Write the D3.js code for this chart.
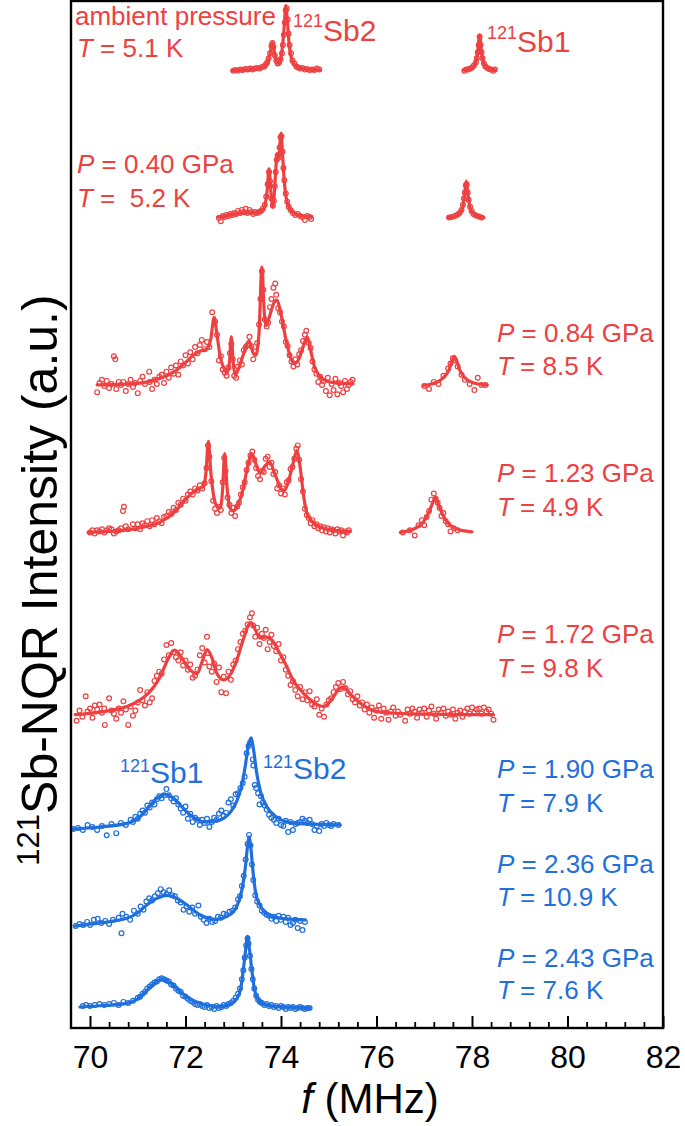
<!DOCTYPE html>
<html><head><meta charset="utf-8">
<script src="https://cdn.jsdelivr.net/npm/d3@7"></script>
<style>
body{margin:0;background:#fff}
svg text{font-family:"Liberation Sans",Arial,Helvetica,sans-serif;white-space:pre}
</style>
</head><body>
<svg id="chart" width="685" height="1126"></svg>
<script>
// ---------- DATA ----------
const xTickValues = [70, 72, 74, 76, 78, 80, 82];
const pressures = ["ambient pressure", "0.40", "0.84", "1.23", "1.72", "1.90", "2.36", "2.43"];
const temperatures = ["5.1", " 5.2", "8.5", "4.9", "9.8", "7.9", "10.9", "7.6"];
const offsets = [93.0, 78.6, 62.3, 47.9, 30.2, 19.03, 9.56, 1.65];
const phases = ["red", "red", "red", "red", "red", "blue", "blue", "blue"];

// fit curves [f (MHz), intensity (a.u.) above offset]
const fit0a = [[72.98,0.1],[73.2,0.15],[73.4,0.2],[73.55,0.3],[73.65,0.5],[73.72,0.9],[73.77,1.7],[73.82,2.83],[73.87,1.7],[73.91,0.95],[73.95,0.8],[73.99,1.2],[74.03,2.4],[74.07,4.6],[74.1,6.45],[74.13,5.2],[74.17,2.7],[74.22,1.3],[74.3,0.6],[74.4,0.35],[74.55,0.2],[74.82,0.15]];
const fit0b = [[77.82,0.15],[77.95,0.25],[78.03,0.45],[78.08,0.9],[78.12,1.9],[78.16,3.6],[78.2,1.9],[78.24,0.9],[78.3,0.45],[78.38,0.25],[78.49,0.15]];
const fit1a = [[72.68,0.2],[72.9,0.35],[73.1,0.5],[73.3,0.6],[73.5,0.65],[73.6,0.8],[73.66,1.3],[73.71,2.8],[73.75,4.9],[73.79,2.5],[73.83,1.2],[73.86,2.5],[73.89,4.8],[73.92,6.4],[73.95,6.0],[73.98,7.5],[74.0,8.4],[74.03,6.5],[74.07,3.6],[74.12,1.8],[74.2,0.9],[74.3,0.5],[74.45,0.3],[74.65,0.25]];
const fit1b = [[77.5,0.15],[77.65,0.3],[77.75,0.6],[77.81,1.3],[77.85,2.6],[77.88,3.7],[77.91,2.6],[77.95,1.3],[78.01,0.6],[78.1,0.3],[78.25,0.15]];
const fit2a = [[70.15,0.1],[70.6,0.15],[71.0,0.25],[71.25,0.45],[71.5,0.8],[71.8,1.5],[72.0,2.3],[72.16,3.0],[72.3,3.4],[72.45,3.6],[72.53,4.6],[72.6,6.7],[72.66,5.0],[72.73,2.8],[72.8,1.8],[72.87,1.3],[72.92,2.3],[72.96,4.8],[73.0,2.2],[73.04,1.1],[73.12,1.8],[73.22,3.2],[73.33,4.4],[73.41,3.3],[73.47,3.0],[73.54,5.2],[73.6,11.6],[73.65,7.2],[73.69,5.9],[73.76,6.8],[73.84,8.0],[73.91,8.4],[74.0,7.0],[74.1,4.6],[74.2,2.8],[74.28,2.2],[74.37,2.6],[74.46,3.8],[74.55,4.8],[74.62,3.5],[74.7,1.9],[74.8,1.0],[74.95,0.5],[75.15,0.3],[75.51,0.2]];
const fit2b = [[76.98,0.05],[77.15,0.2],[77.3,0.45],[77.42,0.9],[77.52,1.6],[77.58,2.4],[77.63,2.9],[77.68,2.4],[77.75,1.5],[77.85,0.8],[77.98,0.4],[78.12,0.2],[78.32,0.1]];
const fit3a = [[69.96,0.1],[70.4,0.2],[70.8,0.35],[71.1,0.6],[71.47,1.1],[71.75,2.0],[72.0,3.3],[72.15,4.0],[72.3,4.4],[72.38,4.6],[72.43,6.0],[72.48,9.0],[72.53,6.0],[72.6,3.4],[72.67,2.6],[72.73,2.5],[72.78,4.5],[72.82,7.8],[72.87,4.5],[72.93,2.5],[73.0,2.2],[73.1,2.8],[73.2,4.2],[73.3,6.5],[73.39,7.8],[73.48,6.7],[73.56,5.9],[73.65,6.5],[73.76,7.0],[73.88,5.7],[74.0,4.4],[74.07,4.2],[74.15,5.0],[74.25,6.8],[74.33,8.1],[74.4,6.5],[74.47,3.8],[74.54,2.0],[74.65,1.2],[74.75,0.8],[74.95,0.45],[75.2,0.25],[75.45,0.2]];
const fit3b = [[76.5,0.1],[76.7,0.3],[76.85,0.6],[76.98,1.1],[77.08,1.9],[77.16,2.8],[77.23,3.5],[77.3,2.8],[77.38,1.9],[77.48,1.1],[77.6,0.6],[77.78,0.3],[78.0,0.15]];
const fit4 = [[69.69,0.0],[70.2,0.25],[70.77,0.8],[71.0,1.3],[71.19,1.95],[71.35,2.8],[71.47,3.7],[71.62,5.3],[71.77,6.3],[71.9,5.7],[72.05,4.6],[72.24,4.0],[72.35,5.2],[72.45,6.35],[72.55,5.6],[72.65,4.1],[72.8,3.4],[72.95,4.0],[73.08,5.4],[73.2,7.2],[73.37,9.0],[73.47,8.2],[73.56,7.5],[73.68,7.6],[73.81,7.3],[73.95,6.2],[74.12,4.7],[74.25,3.4],[74.4,2.45],[74.6,1.5],[74.75,1.0],[74.89,0.8],[75.05,1.4],[75.18,2.3],[75.31,2.7],[75.45,2.0],[75.66,1.15],[75.85,0.55],[76.01,0.3],[76.5,0.12],[77.0,0.05],[78.45,0.0]];
const fit5 = [[69.62,0.0],[70.2,0.2],[70.77,0.55],[71.0,1.0],[71.19,1.9],[71.4,3.0],[71.57,3.4],[71.75,3.0],[71.96,2.0],[72.15,1.2],[72.38,0.7],[72.6,0.75],[72.8,1.04],[72.95,1.7],[73.08,2.8],[73.18,4.3],[73.25,6.1],[73.31,8.0],[73.37,8.9],[73.43,7.6],[73.49,5.5],[73.58,3.5],[73.7,2.2],[73.9,1.2],[74.12,0.7],[74.5,0.5],[75.24,0.4]];
const fit6 = [[69.69,0.0],[70.2,0.3],[70.77,0.75],[71.0,1.3],[71.19,2.05],[71.4,2.7],[71.61,3.0],[71.82,2.7],[72.03,2.05],[72.3,1.1],[72.66,0.65],[72.85,0.9],[73.0,1.4],[73.1,2.2],[73.18,3.5],[73.25,5.6],[73.3,7.8],[73.33,8.7],[73.37,7.6],[73.41,5.5],[73.46,3.5],[73.55,2.1],[73.7,1.25],[73.95,0.8],[74.51,0.6]];
const fit7 = [[69.79,0.0],[70.3,0.15],[70.77,0.36],[71.0,0.8],[71.19,1.6],[71.35,2.3],[71.52,2.7],[71.7,2.3],[71.89,1.5],[72.1,0.8],[72.31,0.36],[72.55,0.1],[72.73,0.03],[72.9,0.2],[73.08,0.85],[73.16,1.9],[73.21,3.6],[73.26,5.6],[73.3,6.9],[73.34,5.6],[73.39,3.6],[73.45,1.6],[73.56,0.5],[73.8,0.1],[74.2,0.0],[74.61,-0.1]];

// measured points [f (MHz), intensity (a.u.) above offset]
const pts0 = [[73.0,0.1],[73.05,0.15],[73.1,0.1],[73.15,0.2],[73.2,0.15],[73.25,0.25],[73.3,0.2],[73.35,0.3],[73.4,0.2],[73.45,0.3],[73.5,0.35],[73.55,0.3],[73.6,0.45],[73.65,0.5],[73.68,0.7],[73.71,0.9],[73.74,1.3],[73.77,1.8],[73.8,2.5],[73.82,2.8],[73.84,2.4],[73.87,1.6],[73.9,1.1],[73.93,0.8],[73.96,0.9],[73.99,1.2],[74.02,1.8],[74.04,2.6],[74.06,3.6],[74.08,4.8],[74.1,6.0],[74.12,6.2],[74.14,5.1],[74.16,3.7],[74.18,2.6],[74.21,1.8],[74.24,1.1],[74.28,0.8],[74.32,0.5],[74.36,0.4],[74.4,0.3],[74.45,0.35],[74.5,0.2],[74.55,0.25],[74.6,0.15],[74.65,0.2],[74.7,0.15],[74.75,0.3],[74.8,0.2],
 [77.84,0.1],[77.88,0.2],[77.92,0.2],[77.96,0.3],[78.0,0.4],[78.04,0.6],[78.08,0.9],[78.1,1.3],[78.12,1.9],[78.14,2.6],[78.16,3.4],[78.18,2.6],[78.2,1.9],[78.22,1.3],[78.25,0.8],[78.28,0.5],[78.32,0.35],[78.36,0.25],[78.4,0.2],[78.44,0.1],[78.48,0.2]];
const pts1 = [[72.7,0.1],[72.74,-0.2],[72.78,0.3],[72.82,0.2],[72.86,0.4],[72.9,0.3],[72.94,0.5],[72.98,0.4],[73.02,0.6],[73.06,0.5],[73.1,0.8],[73.14,0.6],[73.18,0.9],[73.22,0.7],[73.26,1.0],[73.3,0.6],[73.34,0.9],[73.38,0.7],[73.42,0.5],[73.46,0.7],[73.5,0.6],[73.54,0.7],[73.58,0.8],[73.62,1.0],[73.66,1.4],[73.69,2.2],[73.72,3.4],[73.75,4.6],[73.77,3.7],[73.8,2.0],[73.83,1.3],[73.85,1.8],[73.87,3.2],[73.89,4.6],[73.91,5.8],[73.93,6.2],[73.95,6.0],[73.97,7.0],[73.99,8.0],[74.01,8.1],[74.03,6.6],[74.05,5.0],[74.07,3.8],[74.1,2.5],[74.13,1.7],[74.16,1.2],[74.2,0.9],[74.25,0.6],[74.3,0.4],[74.35,0.5],[74.4,0.3],[74.45,0.2],[74.5,-0.1],[74.55,0.3],[74.6,0.2],[74.63,0.0],
 [77.52,0.15],[77.58,0.2],[77.64,0.3],[77.7,0.45],[77.74,0.6],[77.78,0.9],[77.81,1.4],[77.83,2.0],[77.85,2.6],[77.87,3.3],[77.89,3.4],[77.91,2.6],[77.93,1.9],[77.96,1.2],[77.99,0.8],[78.03,0.5],[78.08,0.35],[78.14,0.25],[78.2,0.15]];
const pts2 = [[70.15,-0.6],[70.2,0.3],[70.25,0.6],[70.3,0.0],[70.35,0.5],[70.4,-0.2],[70.45,0.2],[70.5,2.9],[70.53,2.6],[70.55,-0.3],[70.6,0.4],[70.65,0.1],[70.7,0.4],[70.75,-0.5],[70.8,0.2],[70.85,0.6],[70.9,-0.1],[70.95,0.3],[71.0,-0.7],[71.05,0.5],[71.1,0.9],[71.15,0.2],[71.24,1.4],[71.25,0.4],[71.3,-0.3],[71.35,0.6],[71.4,0.2],[71.45,0.9],[71.5,1.1],[71.55,0.3],[71.6,1.4],[71.65,0.8],[71.7,1.8],[71.75,1.2],[71.8,2.0],[71.85,1.1],[71.9,2.4],[71.95,2.0],[72.0,3.0],[72.05,2.2],[72.1,3.3],[72.15,2.6],[72.2,3.8],[72.25,3.2],[72.3,4.0],[72.34,4.5],[72.4,3.6],[72.45,4.3],[72.5,3.8],[72.56,7.2],[72.62,6.3],[72.66,5.0],[72.7,2.5],[72.74,2.9],[72.78,1.6],[72.82,1.3],[72.86,1.0],[72.9,1.8],[72.93,3.2],[72.96,4.1],[72.99,2.6],[73.02,1.0],[73.06,0.8],[73.1,1.9],[73.14,2.5],[73.18,2.1],[73.22,3.5],[73.26,3.8],[73.3,4.0],[73.34,4.8],[73.38,3.9],[73.42,2.6],[73.46,3.4],[73.5,4.2],[73.54,6.0],[73.57,8.5],[73.6,11.2],[73.63,9.4],[73.66,6.5],[73.7,5.8],[73.73,6.2],[73.77,7.7],[73.8,8.5],[73.84,9.6],[73.88,10.0],[73.9,8.9],[73.94,7.6],[73.98,7.2],[74.02,6.3],[74.06,5.8],[74.1,4.3],[74.14,3.9],[74.18,3.0],[74.22,2.4],[74.26,1.9],[74.3,2.6],[74.34,2.1],[74.38,3.1],[74.42,3.5],[74.46,4.4],[74.5,5.0],[74.53,5.4],[74.58,4.2],[74.62,3.7],[74.66,2.4],[74.7,1.6],[74.74,1.2],[74.78,0.4],[74.82,0.9],[74.86,0.1],[74.9,0.5],[74.94,-0.5],[74.98,0.8],[75.02,-0.9],[75.06,0.2],[75.1,-0.4],[75.14,0.7],[75.18,-0.8],[75.22,0.3],[75.26,0.0],[75.3,-0.6],[75.34,0.5],[75.38,-0.3],[75.42,0.1],[75.46,0.4],[75.5,0.6],
 [77.0,0.0],[77.1,-0.3],[77.2,0.4],[77.3,0.2],[77.4,1.0],[77.5,1.7],[77.55,2.2],[77.6,2.7],[77.65,2.5],[77.7,1.9],[77.78,1.1],[77.85,0.6],[77.95,0.2],[78.05,-0.4],[78.12,0.8],[78.2,0.1],[78.28,0.1]];
const pts3 = [[70.0,0.1],[70.05,0.3],[70.1,0.0],[70.15,0.3],[70.2,0.2],[70.25,0.4],[70.3,0.1],[70.35,0.3],[70.4,0.5],[70.45,0.4],[70.5,0.0],[70.55,0.2],[70.6,0.3],[70.65,0.5],[70.69,2.2],[70.71,2.6],[70.75,0.7],[70.8,0.4],[70.9,0.9],[70.95,0.5],[71.0,0.9],[71.05,0.4],[71.1,1.0],[71.15,0.8],[71.2,1.2],[71.25,0.7],[71.3,1.3],[71.35,0.9],[71.4,1.5],[71.45,1.2],[71.5,1.0],[71.55,1.6],[71.6,1.7],[71.65,2.1],[71.7,1.9],[71.75,2.5],[71.8,2.3],[71.85,3.0],[71.9,2.8],[71.95,3.4],[72.0,3.2],[72.05,3.8],[72.1,4.1],[72.15,3.8],[72.2,4.4],[72.25,4.2],[72.3,4.7],[72.35,4.4],[72.4,4.9],[72.44,6.4],[72.47,8.6],[72.5,7.5],[72.54,5.1],[72.58,3.2],[72.62,2.4],[72.66,2.0],[72.7,2.6],[72.74,2.3],[72.78,5.0],[72.81,7.4],[72.84,6.1],[72.88,3.5],[72.92,2.8],[72.96,2.0],[73.0,2.5],[73.04,1.7],[73.08,2.6],[73.12,3.0],[73.16,3.8],[73.2,4.5],[73.24,5.0],[73.28,6.2],[73.32,6.9],[73.36,7.6],[73.4,8.0],[73.44,7.2],[73.48,6.4],[73.52,5.6],[73.56,5.3],[73.6,6.1],[73.64,6.0],[73.68,7.3],[73.72,7.5],[73.76,6.5],[73.8,6.9],[73.84,5.8],[73.88,6.0],[73.92,4.4],[73.96,4.7],[74.0,3.9],[74.04,4.4],[74.08,3.8],[74.12,5.0],[74.16,5.2],[74.2,6.3],[74.24,6.5],[74.28,7.3],[74.32,8.3],[74.35,8.6],[74.38,7.2],[74.42,5.3],[74.46,4.1],[74.5,2.4],[74.54,1.8],[74.58,1.5],[74.62,1.0],[74.66,1.3],[74.7,0.7],[74.74,0.9],[74.78,0.5],[74.82,0.7],[74.86,0.3],[74.9,0.6],[74.94,0.2],[74.98,0.5],[75.02,0.1],[75.06,0.4],[75.1,0.3],[75.14,0.0],[75.18,0.4],[75.22,0.2],[75.26,0.3],[75.3,-0.2],[75.34,0.2],[75.38,0.1],[75.42,0.3],
 [76.55,0.1],[76.7,0.3],[76.8,-0.2],[76.88,0.8],[76.95,1.3],[77.0,0.8],[77.05,1.6],[77.1,2.2],[77.15,3.3],[77.2,3.9],[77.24,3.4],[77.28,3.0],[77.32,2.5],[77.36,1.7],[77.4,2.0],[77.45,1.2],[77.5,0.9],[77.55,0.2],[77.62,0.5],[77.7,0.3]];
const pts4 = [[69.72,-0.6],[69.78,0.4],[69.84,-0.2],[69.91,1.8],[69.95,0.3],[70.0,0.6],[70.05,-0.3],[70.1,0.9],[70.15,0.5],[70.2,1.0],[70.25,0.2],[70.3,0.6],[70.31,-1.0],[70.4,1.6],[70.45,0.4],[70.5,0.1],[70.55,-0.4],[70.6,0.6],[70.65,0.2],[70.7,1.3],[70.75,0.5],[70.8,-1.0],[70.85,0.8],[70.9,-0.1],[70.95,0.4],[71.0,1.2],[71.05,2.4],[71.1,1.4],[71.15,0.9],[71.2,2.2],[71.25,1.2],[71.3,1.6],[71.35,3.3],[71.4,3.8],[71.45,4.2],[71.5,4.0],[71.55,5.4],[71.6,6.8],[71.65,5.8],[71.7,7.0],[71.75,6.1],[71.8,5.6],[71.85,5.3],[71.9,6.1],[71.95,4.8],[72.0,5.3],[72.05,4.4],[72.1,4.9],[72.15,3.6],[72.2,3.8],[72.25,4.4],[72.3,5.8],[72.35,6.5],[72.4,5.1],[72.45,7.6],[72.47,6.0],[72.5,4.7],[72.55,4.2],[72.6,5.0],[72.65,3.2],[72.7,4.6],[72.75,2.2],[72.8,3.7],[72.85,2.1],[72.9,4.2],[72.95,3.4],[73.0,4.9],[73.05,5.3],[73.1,6.4],[73.15,7.1],[73.2,7.9],[73.25,8.2],[73.3,8.8],[73.35,9.5],[73.39,9.9],[73.42,8.7],[73.46,7.6],[73.5,8.5],[73.55,6.9],[73.6,7.9],[73.64,7.5],[73.68,8.3],[73.72,6.4],[73.76,7.1],[73.8,7.8],[73.85,6.7],[73.9,6.2],[73.95,6.9],[74.0,5.3],[74.05,5.6],[74.1,4.4],[74.15,3.8],[74.2,2.9],[74.25,3.3],[74.3,2.4],[74.35,1.8],[74.4,2.7],[74.45,1.5],[74.5,2.2],[74.55,1.4],[74.6,2.3],[74.65,1.0],[74.7,0.8],[74.75,1.5],[74.8,0.0],[74.85,0.6],[74.9,-0.2],[74.95,1.0],[75.0,1.4],[75.05,1.6],[75.1,2.2],[75.15,2.7],[75.2,3.1],[75.25,2.5],[75.3,3.2],[75.35,2.6],[75.4,2.0],[75.45,2.3],[75.5,1.5],[75.55,1.2],[75.6,1.8],[75.65,0.9],[75.7,1.2],[75.75,0.5],[75.8,1.0],[75.85,0.2],[75.9,0.7],[75.95,-0.3],[76.0,0.4],[76.05,0.9],[76.1,-0.4],[76.15,0.6],[76.2,0.2],[76.25,-0.5],[76.3,0.3],[76.35,0.7],[76.4,-0.1],[76.45,0.3],[76.5,0.0],[76.6,-0.6],[76.65,0.5],[76.7,0.1],[76.75,0.6],[76.8,0.3],[76.85,-0.3],[76.9,0.5],[76.95,0.2],[77.0,0.6],[77.05,-0.2],[77.1,0.4],[77.15,0.8],[77.2,0.1],[77.25,-0.4],[77.3,0.5],[77.35,0.2],[77.4,0.6],[77.45,-0.1],[77.5,0.3],[77.55,0.0],[77.6,0.5],[77.65,-0.4],[77.7,0.2],[77.75,0.4],[77.8,-0.2],[77.85,0.3],[77.9,0.6],[77.95,0.1],[78.0,0.7],[78.05,0.2],[78.1,0.5],[78.15,0.6],[78.2,0.1],[78.25,0.7],[78.3,0.3],[78.35,0.5],[78.4,0.1],[78.45,-0.5]];
const pts5 = [[69.65,0.0],[69.75,0.1],[69.85,-0.1],[69.95,0.4],[70.05,0.2],[70.15,-0.1],[70.25,0.3],[70.35,-0.6],[70.45,0.5],[70.55,-0.4],[70.65,0.6],[70.75,0.4],[70.85,0.9],[70.9,0.7],[70.95,1.2],[71.0,1.0],[71.05,1.5],[71.1,1.8],[71.15,1.6],[71.2,2.3],[71.25,2.1],[71.3,2.6],[71.35,2.4],[71.4,2.9],[71.45,3.2],[71.5,3.0],[71.55,3.3],[71.6,3.9],[71.65,3.3],[71.7,3.0],[71.75,2.7],[71.8,3.0],[71.85,2.4],[71.9,2.0],[71.95,1.6],[72.0,2.2],[72.05,1.0],[72.1,1.5],[72.15,0.7],[72.2,1.1],[72.25,0.9],[72.3,0.4],[72.35,0.9],[72.4,0.6],[72.45,1.0],[72.5,0.2],[72.55,0.7],[72.6,1.1],[72.65,0.9],[72.7,1.5],[72.75,1.8],[72.8,1.3],[72.85,1.6],[72.9,2.6],[72.95,2.9],[73.0,2.3],[73.05,3.4],[73.1,3.5],[73.15,4.0],[73.2,4.5],[73.24,5.1],[73.28,7.4],[73.32,8.1],[73.35,8.4],[73.41,6.8],[73.42,6.2],[73.45,4.3],[73.48,4.0],[73.52,3.5],[73.55,2.4],[73.58,3.2],[73.62,2.6],[73.66,2.3],[73.7,1.9],[73.75,1.4],[73.8,1.1],[73.85,0.9],[73.9,0.6],[73.95,1.0],[74.0,0.4],[74.05,0.3],[74.1,0.8],[74.15,-0.3],[74.2,0.7],[74.25,-0.1],[74.3,0.5],[74.35,0.6],[74.4,0.7],[74.45,1.0],[74.5,0.8],[74.55,0.6],[74.6,0.9],[74.65,0.5],[74.7,-0.1],[74.75,0.3],[74.8,-0.2],[74.85,0.5],[74.9,0.3],[74.95,0.6],[75.0,0.4],[75.05,0.3],[75.1,0.5],[75.2,0.4]];
const pts6 = [[69.7,0.0],[69.78,0.2],[69.86,0.1],[69.94,0.4],[70.0,0.1],[70.08,0.6],[70.16,0.7],[70.24,0.3],[70.32,0.5],[70.4,0.2],[70.48,0.6],[70.6,0.8],[70.66,-0.7],[70.68,1.2],[70.76,0.9],[70.84,0.6],[70.92,1.5],[71.0,1.2],[71.06,1.9],[71.12,1.6],[71.18,2.4],[71.24,2.7],[71.3,2.5],[71.36,2.9],[71.42,3.2],[71.48,3.6],[71.54,3.3],[71.6,3.1],[71.66,3.5],[71.72,3.0],[71.78,2.9],[71.84,2.5],[71.9,2.3],[71.96,1.6],[72.02,1.9],[72.08,1.4],[72.14,1.8],[72.2,1.2],[72.27,2.0],[72.32,0.9],[72.38,0.6],[72.44,0.3],[72.5,0.7],[72.56,0.4],[72.62,0.5],[72.68,0.9],[72.74,0.8],[72.8,1.2],[72.86,1.1],[72.92,1.4],[72.98,1.5],[73.04,1.8],[73.1,2.6],[73.14,2.9],[73.18,3.9],[73.22,4.9],[73.26,6.5],[73.3,8.0],[73.33,8.9],[73.36,7.9],[73.39,6.0],[73.42,4.5],[73.46,3.0],[73.5,2.4],[73.55,2.0],[73.6,1.5],[73.65,1.3],[73.7,1.1],[73.75,1.0],[73.8,0.7],[73.85,0.9],[73.9,0.5],[73.95,1.0],[74.0,0.6],[74.05,0.9],[74.1,0.4],[74.15,0.8],[74.2,0.1],[74.25,0.3],[74.3,0.6],[74.35,-0.2],[74.4,0.5],[74.45,-0.4],[74.5,0.4]];
const pts7 = [[69.85,0.1],[69.92,0.2],[70.0,0.1],[70.1,0.2],[70.2,0.3],[70.3,0.2],[70.4,0.3],[70.5,0.4],[70.6,0.2],[70.7,0.5],[70.8,0.4],[70.9,0.6],[71.0,0.9],[71.05,1.0],[71.1,1.3],[71.15,1.5],[71.2,1.8],[71.25,2.0],[71.3,2.2],[71.35,2.4],[71.4,2.5],[71.45,2.7],[71.5,2.8],[71.55,2.7],[71.6,2.6],[71.65,2.5],[71.7,2.2],[71.75,2.1],[71.8,1.8],[71.85,1.6],[71.9,1.5],[71.95,1.1],[72.0,1.0],[72.05,0.8],[72.1,0.6],[72.15,0.5],[72.2,0.3],[72.25,0.2],[72.3,0.3],[72.35,0.1],[72.4,0.0],[72.45,0.2],[72.5,-0.1],[72.55,0.0],[72.6,-0.2],[72.65,0.1],[72.7,-0.1],[72.75,0.0],[72.8,0.2],[72.85,0.1],[72.9,0.3],[72.95,0.4],[73.0,0.6],[73.05,0.9],[73.1,1.3],[73.14,1.8],[73.18,2.7],[73.21,3.6],[73.24,4.8],[73.27,6.0],[73.3,6.7],[73.32,6.2],[73.35,5.0],[73.38,3.7],[73.41,2.7],[73.44,1.8],[73.48,1.1],[73.52,0.7],[73.56,0.5],[73.6,0.4],[73.65,0.2],[73.7,0.3],[73.75,0.1],[73.8,0.2],[73.85,0.0],[73.9,0.1],[73.95,-0.1],[74.0,0.1],[74.05,0.0],[74.1,-0.2],[74.15,0.0],[74.2,-0.1],[74.25,0.0],[74.3,-0.2],[74.35,-0.1],[74.4,0.0],[74.45,-0.1],[74.5,-0.2],[74.55,-0.1],[74.6,-0.1]];

// ---------- CHART ----------
const colorOf = {red: "#EE4040", blue: "#1F6FDC"};
const spectra = [
  {fits: [fit0a, fit0b], pts: pts0},
  {fits: [fit1a, fit1b], pts: pts1},
  {fits: [fit2a, fit2b], pts: pts2},
  {fits: [fit3a, fit3b], pts: pts3},
  {fits: [fit4], pts: pts4},
  {fits: [fit5], pts: pts5},
  {fits: [fit6], pts: pts6},
  {fits: [fit7], pts: pts7}
].map((s, i) => ({...s, off: offsets[i], color: colorOf[phases[i]], p: pressures[i], t: temperatures[i]}));

const svg = d3.select("#chart");
const L = 71, R = 663, T = 1, B = 1028;
const x = d3.scaleLinear().domain([69.6, 82]).range([90 - 0.4 * 47.75, 663]);
const y = d3.scaleLinear().domain([-0.4, 99.9]).range([B, T]);

const plot = svg.append("g");
const line = d3.line().x(d => x(d[0])).y(d => d.yv).curve(d3.curveMonotoneX);

spectra.forEach(s => {
  const g = plot.append("g");
  g.selectAll("circle").data(s.pts).join("circle")
    .attr("cx", d => x(d[0])).attr("cy", d => y(s.off + d[1])).attr("r", 2.4)
    .attr("fill", "none").attr("stroke", s.color).attr("stroke-width", 1.2);
  s.fits.forEach(f => {
    g.append("path")
      .attr("d", line(f.map(d => Object.assign([d[0], d[1]], {yv: y(s.off + d[1])}))))
      .attr("fill", "none").attr("stroke", s.color).attr("stroke-width", 3.2)
      .attr("stroke-linejoin", "round").attr("stroke-linecap", "round");
  });
});

// axis ticks
const xAxis = d3.axisBottom(x).tickValues(xTickValues).tickSizeInner(-12).tickSizeOuter(0).tickPadding(17).tickFormat(d3.format("d"));
const ax = svg.append("g").attr("transform", `translate(0,${B})`).call(xAxis);
ax.select(".domain").remove();
ax.selectAll(".tick line").attr("stroke", "#000").attr("stroke-width", 2);
ax.selectAll(".tick text").attr("font-size", 32).attr("fill", "#000")
  .attr("font-family", '"Liberation Sans",Arial,sans-serif');
const minor = d3.range(70.4, 81.9, 0.4).filter(v => Math.abs(v / 2 - Math.round(v / 2)) > 0.01);
const axm = svg.append("g").attr("transform", `translate(0,${B})`)
  .call(d3.axisBottom(x).tickValues(minor).tickSizeInner(-6).tickSizeOuter(0).tickFormat(""));
axm.select(".domain").remove();
axm.selectAll(".tick line").attr("stroke", "#000").attr("stroke-width", 1.8);

// frame
svg.append("rect").attr("x", L).attr("y", T).attr("width", R - L).attr("height", B - T)
  .attr("fill", "none").attr("stroke", "#000").attr("stroke-width", 2.4);

// axis titles
const xt = svg.append("text").attr("x", 370).attr("y", 1113).attr("text-anchor", "middle")
  .attr("font-size", 42).attr("fill", "#000");
xt.append("tspan").attr("font-style", "italic").text("f");
xt.append("tspan").text(" (MHz)");

const yt = svg.append("text").attr("transform", "translate(57,580) rotate(-90)")
  .attr("text-anchor", "middle").attr("font-size", 50).attr("fill", "#000");
yt.append("tspan").attr("font-size", 31).attr("dy", -18).text("121");
yt.append("tspan").attr("dy", 18).text("Sb-NQR Intensity (a.u.)");

// condition labels
function cond(xp, yp, sym, val, color) {
  const t = svg.append("text").attr("x", xp).attr("y", yp).attr("font-size", 26).attr("fill", color);
  t.append("tspan").attr("font-style", "italic").text(sym);
  t.append("tspan").text(" = " + val);
}
const red = colorOf.red, blue = colorOf.blue;
svg.append("text").attr("x", 75).attr("y", 25).attr("font-size", 26).attr("fill", red).text(spectra[0].p);
cond(77, 57, "T", spectra[0].t + " K", red);
cond(77, 173, "P", spectra[1].p + " GPa", red);
cond(77, 207, "T", spectra[1].t + " K", red);
const rightY = [[342, 375], [482, 516], [643, 677], [778, 812], [873, 906], [967, 999]];
rightY.forEach((yy, k) => {
  const s = spectra[k + 2];
  cond(497, yy[0], "P", s.p + " GPa", s.color);
  cond(497, yy[1], "T", s.t + " K", s.color);
});

// site labels
function site(xp, yp, name, dy, color) {
  const t = svg.append("text").attr("x", xp).attr("y", yp).attr("fill", color);
  t.append("tspan").attr("font-size", 18).text("121");
  t.append("tspan").attr("font-size", 30).attr("dy", dy).text(name);
}
site(293, 27, "Sb2", 14, red);
site(487, 39, "Sb1", 13, red);
site(120, 772, "Sb1", 11, blue);
site(263, 768, "Sb2", 11, blue);
</script>
</body></html>
